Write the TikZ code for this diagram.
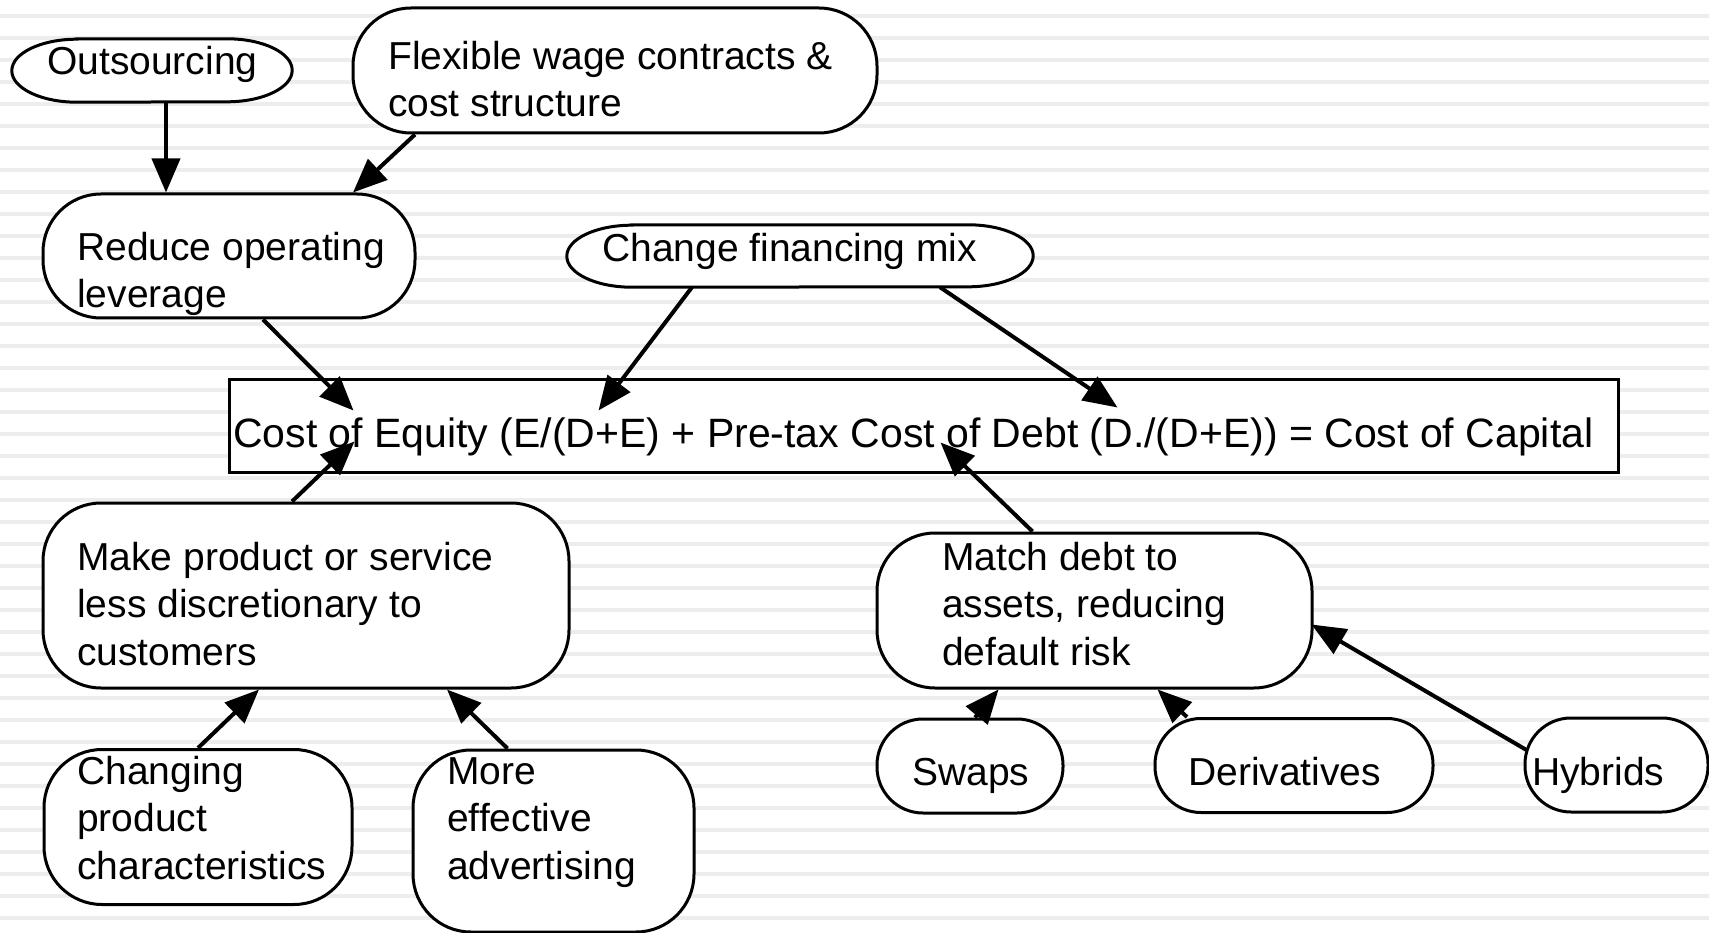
\documentclass[tikz,border=0pt]{standalone}
\usepackage{fontspec}
\setmainfont{Liberation Sans}
\usetikzlibrary{arrows.meta}
\tikzset{
    bubble/.style={draw=black, line width=3pt, fill=white, rounded corners=58pt, inner sep=0},
    pill/.style={bubble, rounded corners=46pt, minimum height=94pt},
    oval/.style={inner sep=0},
    rim/.style={draw=black, line width=3pt, fill=white},
    txt/.style={anchor=base west, inner sep=0, align=left, font=\fontsize{39}{47.5}\selectfont},
    arr/.style={-{Triangle[length=34pt,width=28pt]}, line width=4pt},
    stripe/.style={draw=black!7, line width=4pt}
}

\begin{document}
\begin{tikzpicture}[x=1pt, y=-1pt]
    \useasboundingbox (0,0) rectangle (1709,933);
    \fill[white] (0,0) rectangle (1709,933);
    \foreach \y in {16,38,...,918}
        \draw[stripe] (0,\y) -- (1709,\y);

    % ovals: flat top and bottom, half-ellipse ends
    \node[oval, minimum width=280pt, minimum height=63pt] (outs) at (152,70.5) {};
    \draw[rim] ([xshift=65pt]outs.north west) -- ([xshift=-65pt]outs.north east)
        arc[start angle=90, end angle=-90, x radius=65pt, y radius=31.5pt]
        -- ([xshift=65pt]outs.south west)
        arc[start angle=270, end angle=90, x radius=65pt, y radius=31.5pt] -- cycle;
    \node[txt] (outs-t) at (47,75) {Outsourcing};
    \node[oval, minimum width=466pt, minimum height=62pt] (mix) at (800,256) {};
    \draw[rim] ([xshift=65pt]mix.north west) -- ([xshift=-65pt]mix.north east)
        arc[start angle=90, end angle=-90, x radius=65pt, y radius=31pt]
        -- ([xshift=65pt]mix.south west)
        arc[start angle=270, end angle=90, x radius=65pt, y radius=31pt] -- cycle;
    \node[txt] (mix-t) at (602,262) {Change financing mix};

    % text nodes sit on the baseline of their last line
    \node[bubble, minimum width=524pt, minimum height=125pt] (flex) at (615,70.5) {};
    \node[txt] (flex-t) at (388,117) {Flexible wage contracts \&\\cost structure};
    \node[bubble, minimum width=372pt, minimum height=124pt] (reduce) at (229,256) {};
    \node[txt] (reduce-t) at (77,308) {Reduce operating\\leverage};

    \node[draw, line width=3pt, fill=white, inner sep=0, minimum width=1389pt, minimum height=92pt] (wacc) at (923.5,426) {};
    \node[txt, font=\fontsize{41}{48}\selectfont] (wacc-t) at (233,447) {Cost of Equity (E/(D+E) + Pre-tax Cost of Debt (D./(D+E)) = Cost of Capital};

    \node[bubble, minimum width=526pt, minimum height=185pt] (make) at (306,595.5) {};
    \node[txt] (make-t) at (77,665) {Make product or service\\less discretionary to\\customers};
    \node[bubble, minimum width=435pt, minimum height=155pt] (match) at (1094.5,610.5) {};
    \node[txt] (match-t) at (942,665) {Match debt to\\assets, reducing\\default risk};

    \node[pill, minimum width=186pt] (swaps) at (970,766) {};
    \node[txt] (swaps-t) at (912,785) {Swaps};
    \node[pill, minimum width=278pt] (deriv) at (1294,765.5) {};
    \node[txt] (deriv-t) at (1188,785) {Derivatives};
    \node[pill, minimum width=183pt] (hybr) at (1616.5,765) {};
    \node[txt] (hybr-t) at (1532,785) {Hybrids};

    \node[bubble, minimum width=308pt, minimum height=155pt] (chg) at (198,827) {};
    \node[txt] (chg-t) at (77,879) {Changing\\product\\characteristics};
    \node[bubble, minimum width=281pt, minimum height=182pt] (advert) at (553.5,841) {};
    \node[txt] (advert-t) at (447,879) {More\\effective\\advertising};

    \draw[arr] ([xshift=14pt]outs.south) -- ([xshift=-63pt]reduce.north);
    \draw[arr] ([xshift=-200pt]flex.south) -- ([xshift=124pt]reduce.north);
    \draw[arr] ([xshift=34pt]reduce.south) -- ([xshift=-570pt,yshift=-32pt]wacc.north);
    \draw[arr] ([xshift=-108pt]mix.south) -- ([xshift=-325pt,yshift=-32pt]wacc.north);
    \draw[arr] ([xshift=140pt]mix.south) -- ([xshift=194pt,yshift=-29pt]wacc.north);
    \draw[arr] ([xshift=-14pt]make.north) -- ([xshift=-569pt,yshift=32pt]wacc.south);
    \draw[arr] ([xshift=-62pt]match.north) -- ([xshift=17pt,yshift=31pt]wacc.south);
    \draw[arr] (chg.north) -- ([xshift=-47pt]make.south);
    \draw[arr] ([xshift=-46pt]advert.north) -- ([xshift=141pt]make.south);
    \draw[arr] ([xshift=5pt]swaps.north) -- ([xshift=-96pt]match.south);
    \draw[arr] ([xshift=-107pt]deriv.north) -- ([xshift=63pt]match.south);
    \draw[arr] ([xshift=3pt,yshift=15pt]hybr.west) -- ([xshift=-2pt,yshift=-14pt]match.east);
\end{tikzpicture}
\end{document}
